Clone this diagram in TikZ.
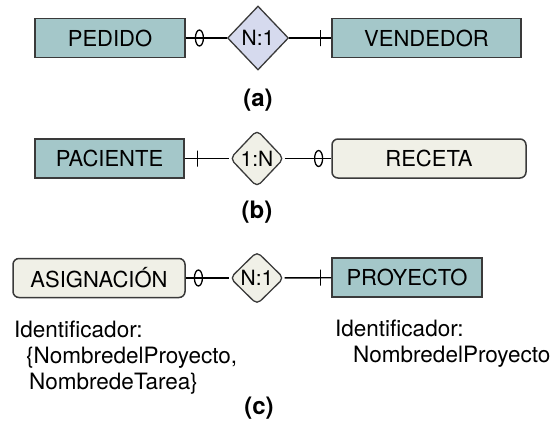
\documentclass[tikz,border=0pt]{standalone}
\usepackage{fontspec}
\setmainfont{TeX Gyre Heros}
\usepackage{tikz}
\usetikzlibrary{shapes.geometric}
\usetikzlibrary{positioning}
\definecolor{entfill}{HTML}{A4C7C9}
\definecolor{relfill}{HTML}{D6DAEE}
\definecolor{weakfill}{HTML}{F0F0E7}
\definecolor{edgegray}{HTML}{3A3A3A}
\tikzset{x=1pt, y=-1pt,
entity/.style={ % Sets the properties for each entity box
rectangle, draw=edgegray, line width=1.5pt, fill=entfill,
minimum height=39pt, inner sep=0pt,
font=\fontsize{22}{26}\selectfont},
weak/.style={entity, fill=weakfill, rounded corners=6pt},
rel/.style={ % Relationship diamonds
diamond, draw=edgegray, line width=1.3pt, fill=relfill,
inner sep=0pt, font=\fontsize{21}{24}\selectfont},
softrel/.style={rel, fill=weakfill, rounded corners=5pt},
zero/.style={ellipse, draw, line width=1.3pt, % Optional end
minimum width=8pt, minimum height=16pt, inner sep=0pt},
bar/.style={rectangle, draw, line width=1.3pt, % Mandatory end
minimum width=0pt, minimum height=16pt, inner sep=0pt},
link/.style={line width=1.4pt},
caption/.style={font=\fontsize{24}{28}\selectfont\bfseries},
ident/.style={anchor=north west, inner sep=0pt, align=left,
font=\fontsize{22.5}{26}\selectfont}}

\begin{document}
\begin{tikzpicture}
\useasboundingbox (0,0) rectangle (553,429);
% (a)
\node[entity, minimum width=150pt] (pedido) at (110,38) {PEDIDO};
\node[rel, minimum width=61pt, minimum height=64pt] (r1) at (258,38) {N:1};
\node[entity, minimum width=189pt] (vendedor) at (426.5,38) {VENDEDOR};
\node[zero, right=9pt of pedido] (z1) {};
\node[bar, left=10pt of vendedor] (b1) {};
\draw[link] (pedido) -- (r1);
\draw[link] (r1) -- (vendedor);
\node[caption] (capa) at (258,100) {(a)};
% (b)
\node[entity, minimum width=149pt] (paciente) at (109.5,158.5) {PACIENTE};
\node[softrel, minimum width=54pt, minimum height=57pt] (r2) at (257,158.5) {1:N};
\node[weak, minimum width=194pt] (receta) at (429,158.5) {RECETA};
\node[bar, right=12pt of paciente] (b2) {};
\node[zero, left=8pt of receta] (z2) {};
\draw[link] (paciente) -- (r2);
\draw[link] (r2) -- (receta);
\node[caption] (capb) at (257,212) {(b)};
% (c)
\node[weak, minimum width=172pt] (asignacion) at (99,278) {ASIGNACIÓN};
\node[softrel, minimum width=54pt, minimum height=53pt] (r3) at (257,278) {N:1};
\node[entity, minimum width=150pt] (proyecto) at (407,277.5) {PROYECTO};
\node[zero, right=8pt of asignacion] (z3) {};
\node[bar, left=10pt of proyecto] (b3) {};
\draw[link] (asignacion) -- (r3);
\draw[link] (r3) -- (proyecto);
\node[ident] (idasig) at (14,321) {Identificador:\\
\hspace*{12pt}\{NombredelProyecto,\\
\hspace*{15pt}NombredeTarea\}};
\node[ident] (idproy) at (335,320) {Identificador:\\
\hspace*{18pt}NombredelProyecto};
\node[caption] (capc) at (259,408) {(c)};
\end{tikzpicture}
\end{document}
